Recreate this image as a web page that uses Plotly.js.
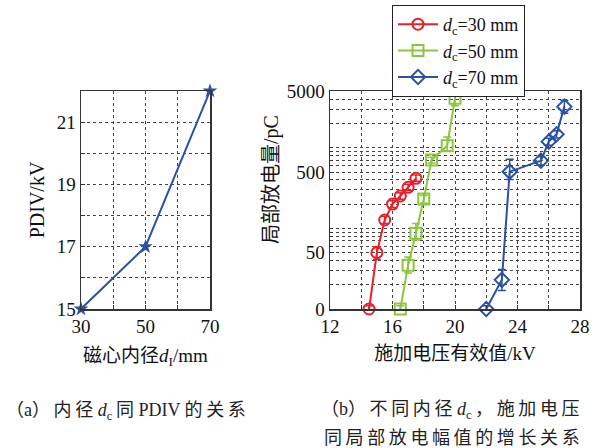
<!DOCTYPE html>
<html>
<head>
<meta charset="utf-8">
<script src="https://cdn.plot.ly/plotly-3.0.1.min.js"></script>
<style>
html,body{margin:0;padding:0;background:#fff;}
#chart{width:600px;height:448px;}
</style>
</head>
<body>
<div id="chart"></div>
<script>
// Panel (a): inner diameter vs PDIV
const diamA = [30, 50, 70];
const pdiv = [15, 17, 22];

// Panel (b): applied voltage (kV) vs PD magnitude (pC)
const seriesNames = ['<i>d</i><sub>c</sub>=30 mm', '<i>d</i><sub>c</sub>=50 mm', '<i>d</i><sub>c</sub>=70 mm'];
const v30 = [14.5, 15.0, 15.5, 16.0, 16.5, 17.0, 17.5];
const q30 = [10, 50, 127, 200, 252, 323, 418];
const q30Up = [1, 9, 14, 20, 25, 30, 40];
const q30Dn = [1, 9, 12, 18, 22, 28, 35];
const v50 = [16.5, 17.0, 17.5, 18.0, 18.5, 19.5, 20.0];
const q50 = [10, 35, 87, 231, 705, 1062, 4120];
const q50Up = [1, 9, 28, 25, 60, 300, 500];
const q50Dn = [1, 7, 15, 25, 60, 150, 800];
const v70 = [22.0, 23.0, 23.5, 25.5, 26.0, 26.5, 27.0];
const q70 = [10, 23, 505, 692, 1191, 1472, 3237];
const q70Up = [1, 8, 215, 80, 120, 150, 650];
const q70Dn = [1, 6, 100, 80, 120, 150, 550];

// y-axis (b) ticks: labelled at 10 ("0"), 50, 500, 5000
const yTickVals = [10, 50, 500, 5000];
const yTickText = ['0', '50', '500', '5000'];
const yMinorVals = [20,30,40,60,70,80,90,100,200,300,400,600,700,800,900,1000,2000,3000,4000];

const cRed = '#e3222b', cGreen = '#8cc63e', cBlue = '#2b51a3';
const serif = 'Liberation Serif, Times New Roman, Noto Sans CJK SC, serif';
const cjk = 'Liberation Serif, Noto Sans CJK SC, serif';
const ts = '\u2009';
function spaced(s) { return s.split('').join(ts); }

function pdTrace(x, y, up, dn, name, color, symbol) {
  return {
    x: x, y: y, name: name, type: 'scatter', mode: 'lines+markers',
    xaxis: 'x2', yaxis: 'y2', cliponaxis: false,
    line: {color: color, width: 2},
    marker: {symbol: symbol, size: 11, color: color, line: {color: color, width: 2}},
    error_y: {type: 'data', symmetric: false, array: up, arrayminus: dn, color: color, thickness: 1.5, width: 4}
  };
}

const data = [
  {x: diamA, y: pdiv, type: 'scatter', mode: 'lines+markers', showlegend: false, cliponaxis: false,
   line: {color: cBlue, width: 2}, marker: {symbol: 'star', size: 11, color: cBlue}},
  pdTrace(v30, q30, q30Up, q30Dn, seriesNames[0], cRed, 'circle-open'),
  pdTrace(v50, q50, q50Up, q50Dn, seriesNames[1], cGreen, 'square-open'),
  pdTrace(v70, q70, q70Up, q70Dn, seriesNames[2], cBlue, 'diamond-open')
];

const gridCommon = {showgrid: true, gridcolor: '#444', gridwidth: 1, griddash: 'dot',
  showline: true, linecolor: '#333', linewidth: 1.5, mirror: true, zeroline: false,
  ticks: 'inside', ticklen: 4, tickcolor: '#333', tickfont: {family: serif, size: 19, color: '#111'}};

const yTop = 1 - 91/448, yBot = 1 - 309/448;

const capA = '（a）' + ts + spaced('内径') + ' <i>d</i><sub>c</sub>' + ts + '同 PDIV ' + spaced('的关系');
const capB1 = '（b）' + ts + spaced('不同内径') + ' <i>d</i><sub>c</sub>' + ts + '，' + ts + spaced('施加电压');
const capB2 = spaced('同局部放电幅值的增长关系');

const layout = {
  width: 600, height: 448,
  margin: {l: 0, r: 0, t: 0, b: 0},
  paper_bgcolor: '#fff', plot_bgcolor: '#fff',
  showlegend: true,
  legend: {x: 392/600, y: 1 - 5/448, xanchor: 'left', yanchor: 'top',
    bordercolor: '#222', borderwidth: 1, bgcolor: '#fff',
    font: {family: serif, size: 18, color: '#111'}, tracegroupgap: 0, itemwidth: 40},
  xaxis: Object.assign({}, gridCommon, {domain: [81/600, 210/600], range: [30, 70],
    tickvals: [30, 40, 50, 60, 70], ticktext: ['30', '', '50', '', '70'],
    title: {text: '磁心内径<i>d</i><sub>I</sub>/mm', font: {family: cjk, size: 19, color: '#111'}, standoff: 12}}),
  yaxis: Object.assign({}, gridCommon, {domain: [yBot, yTop], range: [15, 22],
    tickvals: [15, 16, 17, 18, 19, 20, 21, 22], ticktext: ['15', '', '17', '', '19', '', '21', ''],
    title: {text: 'PDIV/kV', font: {family: serif, size: 20, color: '#111'}, standoff: 6}}),
  xaxis2: Object.assign({}, gridCommon, {domain: [330/600, 580/600], range: [12, 28], anchor: 'y2',
    tickvals: [12, 14, 16, 18, 20, 22, 24, 26, 28], ticktext: ['12', '', '16', '', '20', '', '24', '', '28'],
    title: {text: '施加电压有效值/kV', font: {family: cjk, size: 19, color: '#111'}, standoff: 10}}),
  yaxis2: Object.assign({}, gridCommon, {domain: [yBot, yTop], type: 'log', anchor: 'x2',
    range: [1, Math.log10(5000) + 0.005],
    tickmode: 'array', tickvals: yTickVals, ticktext: yTickText,
    minor: {tickmode: 'array', tickvals: yMinorVals, showgrid: true, gridcolor: '#444', griddash: 'dot', ticks: 'inside', ticklen: 3, tickcolor: '#333'}}),
  annotations: [
    {text: '局部放电量/pC', xref: 'paper', yref: 'paper', textangle: -90,
     x: 271/600, y: 1 - 180/448, xanchor: 'center', yanchor: 'middle', showarrow: false,
     font: {family: cjk, size: 20, color: '#111'}},
    {text: capA, xref: 'paper', yref: 'paper',
     x: 4/600, y: 1 - 411/448, xanchor: 'left', yanchor: 'middle', showarrow: false,
     font: {family: cjk, size: 18, color: '#222'}},
    {text: capB1, xref: 'paper', yref: 'paper',
     x: 582/600, y: 1 - 410/448, xanchor: 'right', yanchor: 'middle', showarrow: false,
     font: {family: cjk, size: 18, color: '#222'}},
    {text: capB2, xref: 'paper', yref: 'paper',
     x: 582/600, y: 1 - 438/448, xanchor: 'right', yanchor: 'middle', showarrow: false,
     font: {family: cjk, size: 18, color: '#222'}}
  ]
};

Plotly.newPlot('chart', data, layout, {displayModeBar: false, staticPlot: true});
</script>
</body>
</html>
